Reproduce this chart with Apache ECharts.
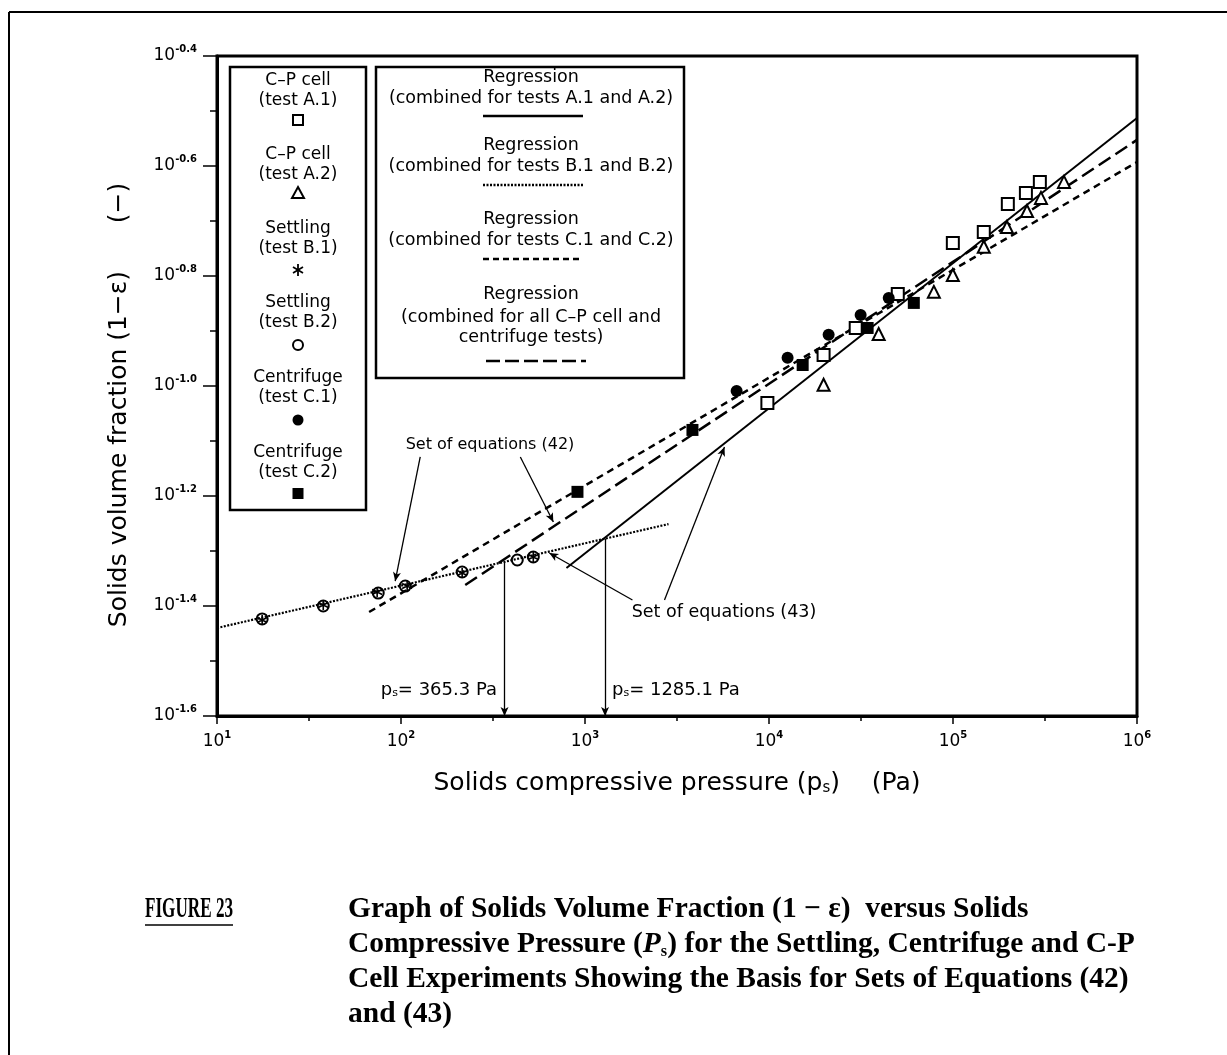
<!DOCTYPE html>
<html><head><meta charset="utf-8">
<script src="https://cdn.jsdelivr.net/npm/echarts@6/dist/echarts.min.js"></script>
<style>html,body{margin:0;padding:0;background:#fff}#c{width:1227px;height:1055px}</style>
</head><body><div id="c"></div>
<script>
// ---- data: solids compressive pressure (Pa) and solids volume fraction (-) ----
const testA1_p = [9800, 19800, 29600, 50100, 99800, 147000, 198600, 249000, 296500];
const testA1_f = [0.0931, 0.1138, 0.1275, 0.1470, 0.1820, 0.1905, 0.2143, 0.2244, 0.2350];
const testA2_p = [19800, 39450, 78700, 99800, 147000, 196400, 252500, 300600, 401000];
const testA2_f = [0.1005, 0.1243, 0.1483, 0.1592, 0.1791, 0.1946, 0.2080, 0.2198, 0.2350];
const testB1_p = [17.6, 37.8, 74.2, 108, 215, 523.6];
const testB1_f = [0.03754, 0.03999, 0.04221, 0.04328, 0.04571, 0.04887];
const testB2_p = [17.6, 37.8, 75.2, 105.5, 215, 428.5, 523.6];
const testB2_f = [0.03771, 0.03981, 0.04203, 0.04328, 0.04590, 0.04827, 0.04888];
const testC1_p = [6670, 12620, 21090, 31480, 44740];
const testC1_f = [0.0979, 0.1125, 0.1239, 0.1346, 0.1445];
const testC2_p = [910, 3837, 15240, 34360, 61240];
const testC2_f = [0.0642, 0.0832, 0.1092, 0.1275, 0.1416];
// regression lines (end points)
const regA_p = [793, 1e6],    regA_f = [0.04667, 0.3071];
const regB_p = [10, 2844],    regB_f = [0.03631, 0.0561];
const regC_p = [67.1, 1e6],   regC_f = [0.03882, 0.2554];
const regAll_p = [223.4, 1e6], regAll_f = [0.04346, 0.2802];
// transition pressures
const transition_p = [365.3, 1285.1];
const transition_f = [0.04788, 0.05278];
// annotation arrows (from -> to)
const arrow42_from_p = [127.2, 445.2], arrow42_from_f = [0.0743, 0.0743];
const arrow42_to_p = [92.98, 673],     arrow42_to_f = [0.04418, 0.05658];
const arrow43_from_p = [1811, 2704],   arrow43_from_f = [0.04083, 0.04083];
const arrow43_to_p = [639.7, 5728],    arrow43_to_f = [0.04969, 0.07745];
// axes (decade exponents)
const xExpMin = 1, xExpMax = 6;
const yExpMin = -1.6, yExpMax = -0.4, yExpStep = 0.2;

const L = Math.log10;
const pts = (P, F) => P.map((p, i) => [L(p), L(F[i])]);
const FONT = '"DejaVu Sans", sans-serif';

const chart = echarts.init(document.getElementById('c'), null, {renderer: 'canvas'});

function lineSeries(name, P, F, type, width) {
  return {name, type: 'line', data: pts(P, F), showSymbol: false, symbol: 'none',
    lineStyle: {color: '#000', width, type}, z: 3, animation: false, silent: true};
}
function scatter(name, P, F, symbol, size, fill, bw) {
  return {name, type: 'scatter', data: pts(P, F), symbol, symbolSize: size,
    itemStyle: {color: fill, borderColor: '#000', borderWidth: bw, opacity: 1}, z: 5, animation: false, silent: true};
}

const arrowData = [];
transition_p.forEach((p, i) => {
  arrowData.push([{coord: [L(p), L(transition_f[i])]}, {coord: [L(p), yExpMin]}]);
});
arrow42_from_p.forEach((p, i) => arrowData.push([{coord: [L(p), L(arrow42_from_f[i])]}, {coord: [L(arrow42_to_p[i]), L(arrow42_to_f[i])]}]));
arrow43_from_p.forEach((p, i) => arrowData.push([{coord: [L(p), L(arrow43_from_f[i])]}, {coord: [L(arrow43_to_p[i]), L(arrow43_to_f[i])]}]));

// measure helper for condensed caption
const mctx = document.createElement('canvas').getContext('2d');
function widthOf(t, font) { mctx.font = font; return mctx.measureText(t).width; }
const capFont = 'bold 29px "Liberation Serif"';
const capScale = 792 / widthOf('Compressive Pressure (Ps) for the Settling, Centrifuge and C-P', capFont);
const figScale = 88 / widthOf('FIGURE 23', capFont);

const g = [];
// page frame
g.push({type: 'line', shape: {x1: 9, y1: 12, x2: 1227, y2: 12}, style: {stroke: '#000', lineWidth: 2}});
g.push({type: 'line', shape: {x1: 9, y1: 12, x2: 9, y2: 1055}, style: {stroke: '#000', lineWidth: 2}});
function txt(x, y, text, size, align) {
  g.push({type: 'text', x, y, z: 10, style: {text, font: size + 'px ' + FONT, fill: '#000',
    textAlign: align || 'center', textVerticalAlign: 'middle'}});
}
// legend box 1
g.push({type: 'rect', z: 9, shape: {x: 230, y: 67, width: 136, height: 443}, style: {fill: '#fff', stroke: '#000', lineWidth: 2.5}});
const lb1 = [['C\u2013P cell', '(test A.1)', 81], ['C\u2013P cell', '(test A.2)', 155], ['Settling', '(test B.1)', 229],
  ['Settling', '(test B.2)', 303], ['Centrifuge', '(test C.1)', 378], ['Centrifuge', '(test C.2)', 453]];
lb1.forEach(r => { txt(298, r[2], r[0], 17); txt(298, r[2] + 20, r[1], 17); });
g.push({type: 'rect', z: 10, shape: {x: 293, y: 115, width: 10, height: 10}, style: {fill: '#fff', stroke: '#000', lineWidth: 2}});
g.push({type: 'polygon', z: 10, shape: {points: [[298, 187], [304, 198], [292, 198]]}, style: {fill: '#fff', stroke: '#000', lineWidth: 2}});
[[[298, 264], [298, 276]], [[293, 267], [303, 273]], [[293, 273], [303, 267]]].forEach(s =>
  g.push({type: 'line', z: 10, shape: {x1: s[0][0], y1: s[0][1], x2: s[1][0], y2: s[1][1]}, style: {stroke: '#000', lineWidth: 1.8}}));
g.push({type: 'circle', z: 10, shape: {cx: 298, cy: 345, r: 5}, style: {fill: '#fff', stroke: '#000', lineWidth: 2}});
g.push({type: 'circle', z: 10, shape: {cx: 298, cy: 420, r: 5.5}, style: {fill: '#000'}});
g.push({type: 'rect', z: 10, shape: {x: 292.5, y: 488, width: 11, height: 11}, style: {fill: '#000'}});
// legend box 2
g.push({type: 'rect', z: 9, shape: {x: 376, y: 67, width: 308, height: 311}, style: {fill: '#fff', stroke: '#000', lineWidth: 2.5}});
const lb2 = [['(combined for tests A.1 and A.2)', 77, 116, null], ['(combined for tests B.1 and B.2)', 145, 185, [2, 1.5]],
  ['(combined for tests C.1 and C.2)', 219, 259, [6, 4]]];
lb2.forEach(r => {
  txt(531, r[1], 'Regression', 17.5); txt(531, r[1] + 21, r[0], 17.5);
  g.push({type: 'line', z: 10, shape: {x1: 483, y1: r[2], x2: 583, y2: r[2]}, style: {stroke: '#000', lineWidth: 2.5, lineDash: r[3]}});
});
txt(531, 294, 'Regression', 17.5); txt(531, 317, '(combined for all C\u2013P cell and', 17.5); txt(531, 337, 'centrifuge tests)', 17.5);
g.push({type: 'line', z: 10, shape: {x1: 486, y1: 361, x2: 586, y2: 361}, style: {stroke: '#000', lineWidth: 2.5, lineDash: [14, 5]}});
// annotations
txt(490, 445, 'Set of equations (42)', 16);
txt(724, 612, 'Set of equations (43)', 17.5);
g.push({type: 'text', x: 497, y: 690, z: 10, style: {text: 'p{s|s}= 365.3 Pa', font: '18px ' + FONT, fill: '#000', textAlign: 'right', textVerticalAlign: 'middle',
  rich: {s: {fontSize: 11, fontFamily: FONT, verticalAlign: 'bottom', lineHeight: 11}}}});
g.push({type: 'text', x: 612, y: 690, z: 10, style: {text: 'p{s|s}= 1285.1 Pa', font: '18px ' + FONT, fill: '#000', textAlign: 'left', textVerticalAlign: 'middle',
  rich: {s: {fontSize: 11, fontFamily: FONT, verticalAlign: 'bottom', lineHeight: 11}}}});
// caption
g.push({type: 'text', x: 145, y: 910, scaleX: figScale, z: 10, style: {text: 'FIGURE 23', font: capFont, fill: '#000', textVerticalAlign: 'middle'}});
g.push({type: 'line', shape: {x1: 145, y1: 925, x2: 233, y2: 925}, style: {stroke: '#000', lineWidth: 1.5}});
const capLines = ['Graph of Solids Volume Fraction (1 \u2212 \u03b5)  versus Solids',
  'Compressive Pressure ({i|P}{s|s}) for the Settling, Centrifuge and C-P',
  'Cell Experiments Showing the Basis for Sets of Equations (42)', 'and (43)'];
capLines.forEach((t, i) => g.push({type: 'text', x: 348, y: 910 + 35 * i, scaleX: capScale, z: 10,
  style: {text: t, font: capFont, fill: '#000', textVerticalAlign: 'middle',
    rich: {i: {font: 'bold italic 29px "Liberation Serif"'}, s: {font: 'bold 16px "Liberation Serif"', verticalAlign: 'bottom', lineHeight: 16}}}}));

const supRich = {b: {fontSize: 17, fontFamily: FONT, color: '#000', lineHeight: 24}, e: {fontSize: 10, fontWeight: 'bold', fontFamily: FONT, color: '#000', verticalAlign: 'top', lineHeight: 10}};

chart.setOption({
  animation: false,
  backgroundColor: '#fff',
  grid: {left: 217, top: 56, width: 920, height: 660, show: true, borderColor: '#000', borderWidth: 3, containLabel: false},
  xAxis: {type: 'value', min: xExpMin, max: xExpMax, interval: 1,
    name: 'Solids compressive pressure (p{s|s})    (Pa)', nameLocation: 'middle', nameGap: 55,
    nameTextStyle: {fontSize: 25, fontFamily: FONT, color: '#000', rich: {s: {fontSize: 15, fontFamily: FONT, verticalAlign: 'bottom', lineHeight: 15}}},
    axisLine: {lineStyle: {color: '#000', width: 3}}, axisTick: {length: 8, lineStyle: {color: '#000', width: 1.5}},
    minorTick: {show: true, splitNumber: 2, length: 5, lineStyle: {color: '#000', width: 1.5}},
    splitLine: {show: false},
    axisLabel: {margin: 14, formatter: v => '{b|10}{e|' + Math.round(v) + '}', rich: supRich}},
  yAxis: {type: 'value', min: yExpMin, max: yExpMax, interval: yExpStep,
    name: 'Solids volume fraction (1\u2212\u03b5)      (\u2212)', nameLocation: 'middle', nameGap: 85,
    nameTextStyle: {fontSize: 25, fontFamily: FONT, color: '#000', padding: [0, 38, 0, 0]},
    axisLine: {lineStyle: {color: '#000', width: 3}}, axisTick: {length: 14, lineStyle: {color: '#000', width: 1.5}},
    minorTick: {show: true, splitNumber: 2, length: 7, lineStyle: {color: '#000', width: 1.5}},
    splitLine: {show: false},
    axisLabel: {margin: 20, formatter: v => '{b|10}{e|' + Number(v).toFixed(1) + '}', rich: supRich}},
  series: [
    lineSeries('Regression A.1/A.2', regA_p, regA_f, 'solid', 2),
    lineSeries('Regression B.1/B.2', regB_p, regB_f, [2, 1.5], 2.2),
    lineSeries('Regression C.1/C.2', regC_p, regC_f, [7, 5], 2.5),
    lineSeries('Regression all', regAll_p, regAll_f, [14, 6], 2.5),
    {type: 'line', data: [], silent: true, animation: false,
      markLine: {silent: true, animation: false, symbol: ['none', 'arrow'], symbolSize: [6, 9],
        label: {show: false}, lineStyle: {color: '#000', width: 1.3, type: 'solid'}, data: arrowData}},
    scatter('C-P cell (test A.1)', testA1_p, testA1_f, 'rect', 12, '#fff', 2),
    scatter('C-P cell (test A.2)', testA2_p, testA2_f, 'triangle', 12, '#fff', 2),
    scatter('Settling (test B.1)', testB1_p, testB1_f, 'path://M5,0L5,10M0,2.5L10,7.5M0,7.5L10,2.5', 10, 'none', 1.6),
    scatter('Settling (test B.2)', testB2_p, testB2_f, 'circle', 11, 'rgba(255,255,255,0)', 2),
    scatter('Centrifuge (test C.1)', testC1_p, testC1_f, 'circle', 12, '#000', 0),
    scatter('Centrifuge (test C.2)', testC2_p, testC2_f, 'rect', 12, '#000', 0)
  ],
  graphic: {elements: g}
});
</script></body></html>
